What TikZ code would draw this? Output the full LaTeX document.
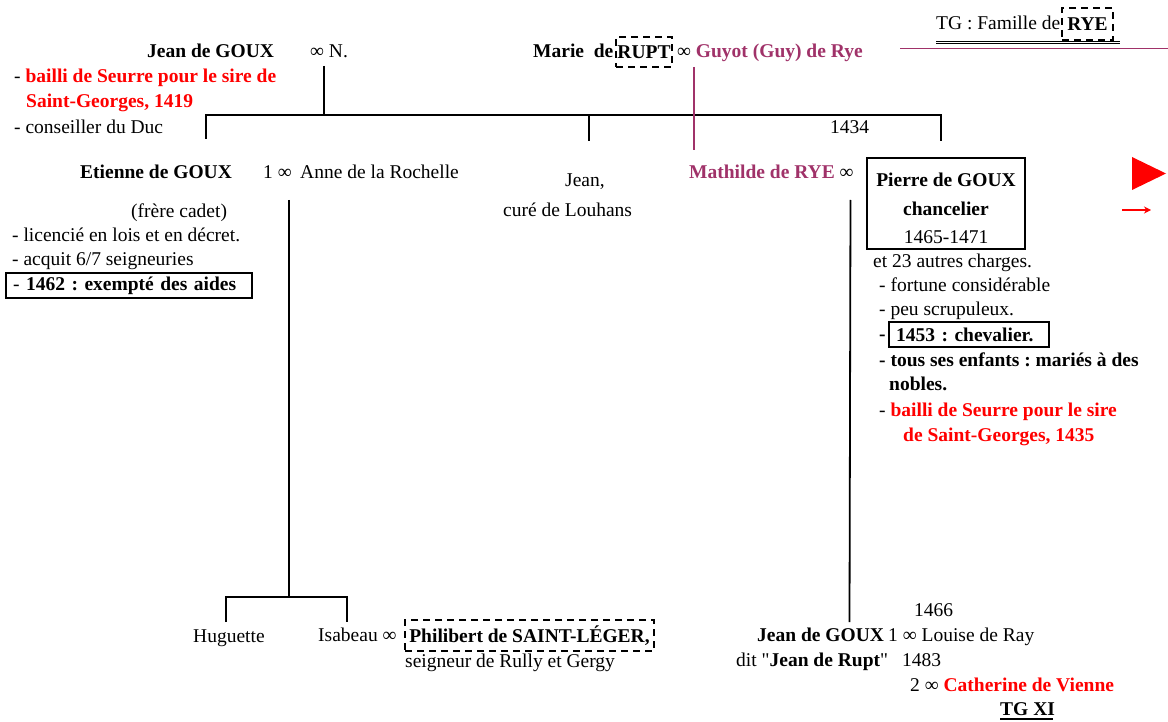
\documentclass[tikz,border=0pt]{standalone}
\usepackage{fontspec}
\setmainfont{Liberation Serif}
\newfontfamily\qfont{Liberation Serif}[Ligatures=TeXOff]
\usetikzlibrary{arrows.meta}
\definecolor{ryepurple}{RGB}{160,50,105}
\newcommand\fsz{\fontsize{19.5}{23.5}\selectfont}
\newcommand\redbf[1]{\textcolor{red}{\bfseries #1}}
\frenchspacing
\begin{document}
\frenchspacing
\begin{tikzpicture}[x=1pt,y=-1pt,font=\fsz,
  t/.style={anchor=base west, inner sep=0pt},
  tc/.style={anchor=base, inner sep=0pt},
  ln/.style={line width=1.8pt},
  dbox/.style={draw, dash pattern=on 7pt off 5pt, line width=2pt, inner sep=0pt},
  sbox/.style={draw, line width=2.2pt, inner sep=0pt}]
\useasboundingbox (0,0) rectangle (1168,722);

% ---- top right title
\node[t] (tgf) at (936,30) {TG : Famille de};
\node[dbox, minimum width=51pt, minimum height=32pt] (rye) at (1087.5,24) {\bfseries RYE};
\coordinate (ulA) at (936,42.5); \coordinate (ulB) at (1120,42.5);
\draw[double, double distance=1.2pt, line width=1.3pt] (ulA) -- (ulB);
\coordinate (pA) at (900,48.5); \coordinate (pB) at (1168,48.5);
\draw[ln, ryepurple] (pA) -- (pB);

% ---- generation 1
\node[t] (jg1) at (147,58) {\bfseries Jean de GOUX};
\node[t] (nN) at (310,58) {∞ N.};
\node[t] (marie) at (533,58) {\bfseries Marie\ \ de};
\node[dbox, minimum width=56pt, minimum height=30pt] (rupt) at (644,52) {\bfseries RUPT};
\node[t] (guyot) at (677,58) {∞ \textcolor{ryepurple}{\bfseries Guyot (Guy) de Rye}};

\node[t] (jg1a) at (14,83) {- \redbf{bailli de Seurre pour le sire de}};
\node[t] (jg1b) at (26,108) {\redbf{Saint-Georges, 1419}};
\node[t] (jg1c) at (14,134) {- conseiller du Duc};
\node[t] (y1434) at (830,134) {1434};

% ---- tree lines gen 1 -> gen 2
\coordinate (cN) at (324,66);
\coordinate (cH) at (324,115);
\coordinate (hL) at (206,115); \coordinate (hLd) at (206,139);
\coordinate (hM) at (589,115); \coordinate (hMd) at (589,141);
\coordinate (hR) at (941,115); \coordinate (hRd) at (941,141);
\draw[ln] (cN) -- (cH);
\draw[ln] (hLd) -- (hL) -- (hR) -- (hRd);
\draw[ln] (hM) -- (hMd);
\coordinate (gA) at (694,67); \coordinate (gB) at (694,150);
\draw[ln, ryepurple] (gA) -- (gB);

% ---- generation 2
\node[t] (etienne) at (80,179) {\bfseries Etienne de GOUX};
\node[t] (m1) at (263,179) {1 ∞};
\node[t] (anne) at (300,179) {Anne de la Rochelle};
\node[t] (jean2a) at (565,187) {Jean,};
\node[t] (jean2b) at (503,217) {curé de Louhans};
\node[t] (mathilde) at (689,179) {\textcolor{ryepurple}{\bfseries Mathilde de RYE} ∞};

\node[sbox, minimum width=158pt, minimum height=91pt] (pierre) at (946,203.5) {};
\node[tc] (pierre1) at (946,186.5) {\bfseries Pierre de GOUX};
\node[tc] (pierre2) at (946,216) {\bfseries chancelier};
\node[tc] (pierre3) at (946,243.5) {1465-1471};

\node[t] (et1) at (131,218) {(frère cadet)};
\node[t] (et2) at (12,242) {- licencié en lois et en décret.};
\node[t] (et3) at (12,266) {- acquit 6/7 seigneuries};
\node[sbox, anchor=west, minimum height=25pt, text width=232pt, inner xsep=7pt, align=left] (et4) at (5,285.5)
  {- \bfseries 1462 : exempté des aides};

\node[t] (pg1) at (873,268) {et 23 autres charges.};
\node[t] (pg2) at (879,292) {- fortune considérable};
\node[t] (pg3) at (879,316) {- peu scrupuleux.};
\node[t] (pg4) at (879,341) {\bfseries -};
\node[sbox, anchor=west, minimum height=25pt, text width=146pt, inner xsep=7pt, align=left] (pg5) at (888,334.5)
  {\bfseries 1453 : chevalier.};
\node[t] (pg6) at (879,366) {\bfseries - tous ses enfants : mariés à des};
\node[t] (pg7) at (889,390) {\bfseries nobles.};
\node[t] (pg8) at (879,416) {- \redbf{bailli de Seurre pour le sire}};
\node[t] (pg9) at (903,441) {\redbf{de Saint-Georges, 1435}};

% red markers
\fill[red] (1132,157) -- (1166,173.5) -- (1132,190) -- cycle;
\coordinate (arA) at (1122,210); \coordinate (arB) at (1151,210);
\draw[red, line width=2pt, -{Stealth[length=7pt,width=7pt]}] (arA) -- (arB);

% ---- tree lines gen 2 -> gen 3
\coordinate (eA) at (289,200); \coordinate (eB) at (289,597);
\coordinate (eL) at (226,597); \coordinate (eLd) at (226,622);
\coordinate (eR) at (347,597); \coordinate (eRd) at (347,622);
\draw[ln] (eA) -- (eB);
\draw[ln] (eLd) -- (eL) -- (eR) -- (eRd);
\coordinate (mA) at (850.5,200); \coordinate (mB) at (849.5,622);
\draw[ln] (mA) -- (mB);

% ---- generation 3
\node[t] (hug) at (193,642) {Huguette};
\node[t] (isa) at (318,641) {Isabeau ∞};
\node[dbox, minimum width=249pt, minimum height=31pt] (phil) at (529.5,635.5) {\bfseries Philibert de SAINT-LÉGER,};
\node[t] (phil2) at (405,667) {seigneur de Rully et Gergy};

\node[t] (y1466) at (914,616) {1466};
\node[t] (jg3) at (757,641) {\bfseries Jean de GOUX};
\node[t] (louise) at (888,641) {1 ∞ Louise de Ray};
\node[t] (dit) at (736,666) {dit {\qfont"}\textbf{Jean de Rupt}{\qfont"}};
\node[t] (y1483) at (902,666) {1483};
\node[t] (cath) at (910,691) {2 ∞ \redbf{Catherine de Vienne}};
\node[t] (tgxi) at (1000,715) {\bfseries TG XI};
\coordinate (tA) at (1000,719); \coordinate (tB) at (1053,719);
\draw[line width=1.3pt] (tA) -- (tB);
\end{tikzpicture}
\end{document}
